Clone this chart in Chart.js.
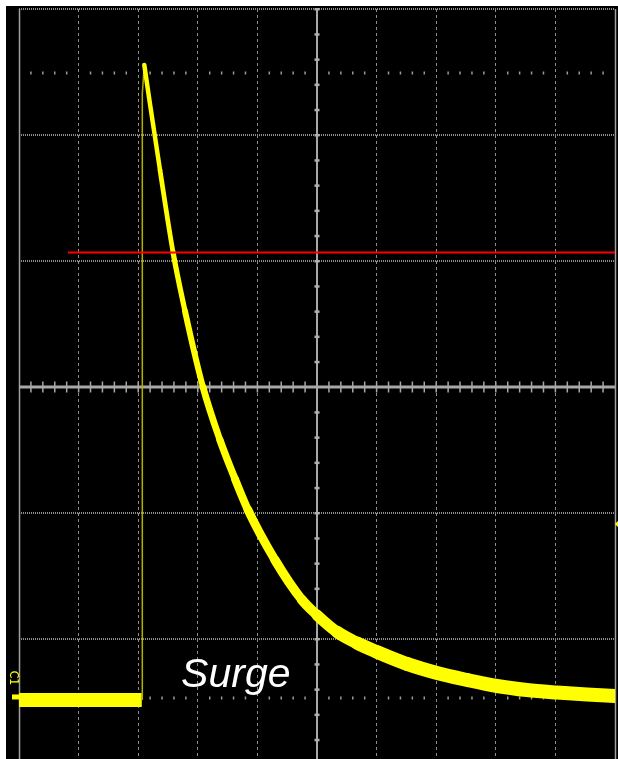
<!DOCTYPE html>
<html>
<head>
<meta charset="utf-8">
<script src="https://cdn.jsdelivr.net/npm/chart.js@4"></script>
<style>
  html, body { margin: 0; padding: 0; background: #fff; overflow: hidden; }
  #wrap { position: relative; width: 618px; height: 780px; }
</style>
</head>
<body>
<div id="wrap"><canvas id="scope"></canvas></div>
<script>
// screen in divisions: 10 across, 6 high (last row is cut by the window)
const xRange = [0, 10];
const yRange = [-3, 3];

// ground level before the surge
const baseTime  = [0, 2.06];
const baseLevel = [-2.484, -2.484];

// the fast rising edge
const stepTime  = [2.069, 2.069, 2.102];
const stepLevel = [-2.484, 2.33, 2.556];

// decay: centre of the trace and its width in px (the trace gets noisier as it falls)
const decayTime  = [2.102, 2.198, 2.366, 2.584, 2.785, 3.087, 3.372, 3.624, 3.842, 4.295, 4.748, 5.0, 5.336, 5.671, 6.007, 6.51, 7.013, 7.517, 8.02, 8.523, 9.027, 9.53, 10];
const decayLevel = [2.556, 2.246, 1.722, 1.071, 0.603, 0, -0.421, -0.73, -0.976, -1.373, -1.69, -1.81, -1.944, -2.032, -2.103, -2.198, -2.27, -2.325, -2.373, -2.405, -2.425, -2.441, -2.452];
const decayWidth = [4.5, 4.5, 4.5, 5, 5.5, 6.5, 7, 7.5, 8.5, 9, 9.5, 10.5, 12, 13, 13.5, 14, 14, 14, 14, 14, 14, 14, 14];

// red cursor line
const cursorTime  = [0.822, 10];
const cursorLevel = [1.067, 1.067];

// markers and label
const tickRows = [2.492, -2.468];
const groundLevel = -2.46;
const triggerLevel = -1.087;
const labelText = "Surge";
const labelAt = [2.72, -2.38];

const pts = (xs, ys) => xs.map((v, i) => ({ x: v, y: ys[i] }));

const scopeDeco = {
  id: 'scopeDeco',
  beforeDraw(chart) {
    const ctx = chart.ctx;
    ctx.save();
    ctx.fillStyle = '#000';
    ctx.fillRect(6, 6, chart.width - 6, chart.height - 6);
    ctx.restore();
  },
  beforeDatasetsDraw(chart) {
    const { ctx, chartArea: a } = chart;
    const x = chart.scales.x, y = chart.scales.y;
    ctx.save();
    // frame sides
    ctx.strokeStyle = '#a0a0a0';
    ctx.lineWidth = 1.5;
    [xRange[0], xRange[1]].forEach(v => {
      const px = Math.round(x.getPixelForValue(v)) + 0.5;
      ctx.beginPath(); ctx.moveTo(px, a.top); ctx.lineTo(px, chart.height); ctx.stroke();
    });
    // centre cross
    const cx = x.getPixelForValue(5), cy = y.getPixelForValue(0);
    ctx.strokeStyle = '#a8a8a8';
    ctx.lineWidth = 3;
    ctx.beginPath(); ctx.moveTo(a.left, cy); ctx.lineTo(a.right, cy); ctx.stroke();
    ctx.lineWidth = 2;
    ctx.beginPath(); ctx.moveTo(cx, a.top); ctx.lineTo(cx, chart.height); ctx.stroke();
    // minor ticks on the cross
    ctx.lineWidth = 1.5;
    for (let i = 1; i < 50; i++) {
      const px = x.getPixelForValue(i / 5);
      ctx.beginPath(); ctx.moveTo(px, cy - 5.5); ctx.lineTo(px, cy + 5.5); ctx.stroke();
    }
    ctx.fillStyle = '#b0b0b0';
    for (let i = -15; i <= 15; i++) {
      if (i === 0) continue;
      const py = y.getPixelForValue(i / 5);
      ctx.fillRect(cx - 2.5, py - 1, 5, 2.5);
    }
    // dotted tick rows
    ctx.strokeStyle = '#9a9a9a';
    ctx.lineWidth = 1.5;
    tickRows.forEach(r => {
      const py = y.getPixelForValue(r);
      for (let i = 1; i < 50; i++) {
        if (i % 5 === 0) continue;
        const px = x.getPixelForValue(i / 5);
        ctx.beginPath(); ctx.moveTo(px, py - 1.5); ctx.lineTo(px, py + 1.5); ctx.stroke();
      }
    });
    // ground marker + channel label
    const gy = y.getPixelForValue(groundLevel);
    ctx.fillStyle = '#ffff00';
    ctx.fillRect(a.left - 7, gy - 2.5, 7, 5);
    ctx.save();
    ctx.translate(a.left - 6, gy - 19);
    ctx.rotate(Math.PI / 2);
    ctx.font = '12px "DejaVu Sans Condensed", "DejaVu Sans", sans-serif';
    ctx.textAlign = 'center';
    ctx.textBaseline = 'middle';
    ctx.fillText('C1', 0, 0);
    ctx.restore();
    // trigger marker at the right edge
    const ty = y.getPixelForValue(triggerLevel);
    ctx.beginPath();
    ctx.moveTo(a.right, ty);
    ctx.lineTo(a.right + 4, ty - 4);
    ctx.lineTo(a.right + 4, ty + 4);
    ctx.closePath();
    ctx.fill();
    ctx.restore();
  },
  afterDraw(chart) {
    const ctx = chart.ctx;
    ctx.save();
    ctx.fillStyle = '#fff';
    ctx.font = 'italic 41px "Liberation Sans", Arial, sans-serif';
    ctx.textBaseline = 'alphabetic';
    ctx.fillText(labelText, chart.scales.x.getPixelForValue(labelAt[0]), chart.scales.y.getPixelForValue(labelAt[1]));
    ctx.restore();
  }
};

const yellow = '#ffff00';

new Chart(document.getElementById('scope'), {
  type: 'scatter',
  data: {
    datasets: [
      { data: pts(cursorTime, cursorLevel), showLine: true, borderColor: '#ff0000', borderWidth: 2, pointRadius: 0, order: 0 },
      { data: pts(decayTime, decayLevel), showLine: true, borderColor: yellow, pointRadius: 0,
        cubicInterpolationMode: 'monotone', borderCapStyle: 'round', borderJoinStyle: 'round', order: 1,
        segment: { borderWidth: c => (decayWidth[c.p0DataIndex] + decayWidth[c.p1DataIndex]) / 2 } },
      { data: pts(stepTime, stepLevel), showLine: true, borderColor: '#b0b000', borderWidth: 1.5, pointRadius: 0, order: 2 },
      { data: pts(baseTime, baseLevel), showLine: true, borderColor: yellow, borderWidth: 14, pointRadius: 0, order: 3 }
    ]
  },
  options: {
    responsive: true,
    maintainAspectRatio: false,
    animation: false,
    events: [],
    layout: { padding: { left: 19, right: 3, top: 9, bottom: 15 } },
    plugins: { legend: { display: false }, tooltip: { enabled: false } },
    scales: {
      x: {
        type: 'linear', min: xRange[0], max: xRange[1],
        ticks: { display: false, stepSize: 1 },
        grid: {
          drawTicks: false, lineWidth: 1,
          color: ctx => [0, 5, 10].includes(ctx.tick.value) ? 'rgba(0,0,0,0)' : '#8c8c8c'
        },
        border: { display: false, dash: [3, 3] }
      },
      y: {
        min: yRange[0], max: yRange[1],
        ticks: { display: false, stepSize: 1 },
        grid: {
          drawTicks: false, lineWidth: 2,
          color: ctx => ctx.tick.value === 0 ? 'rgba(0,0,0,0)' : '#8c8c8c'
        },
        border: { display: false, dash: [1, 1] }
      }
    }
  },
  plugins: [scopeDeco]
});
</script>
</body>
</html>
